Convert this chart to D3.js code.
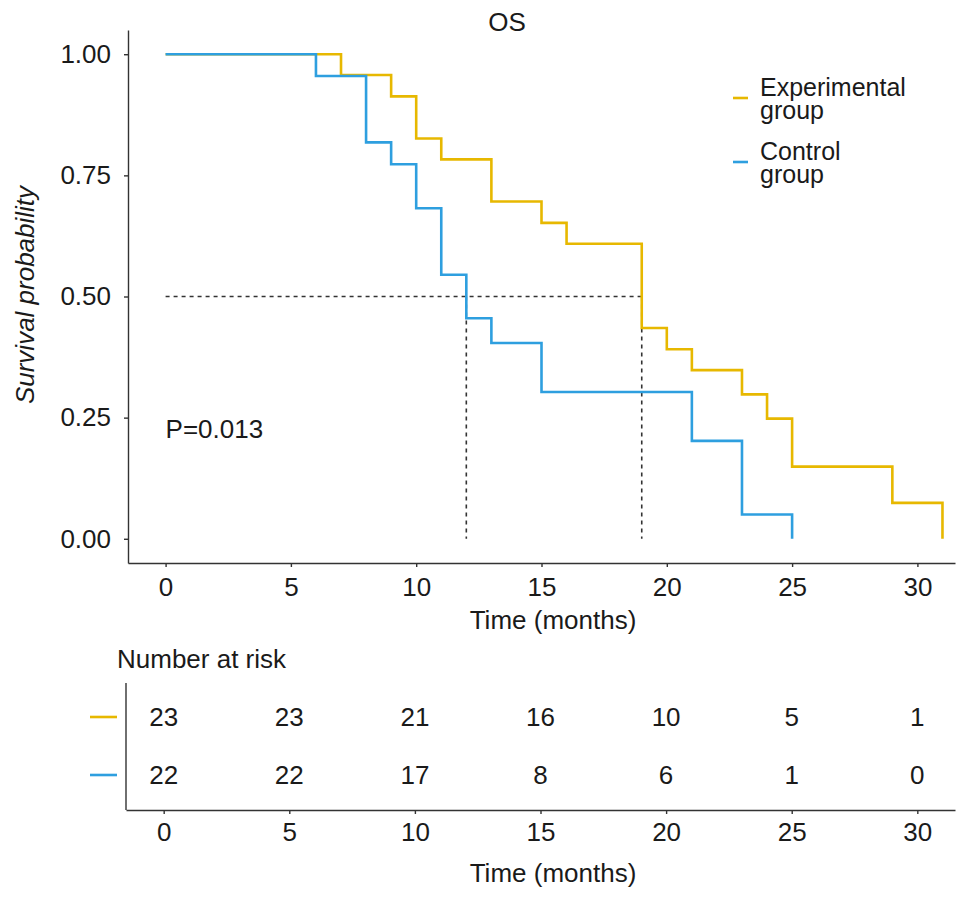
<!DOCTYPE html>
<html>
<head>
<meta charset="utf-8">
<script src="https://cdn.jsdelivr.net/npm/d3@7"></script>
<style>
  body { margin: 0; background: #fff; }
  svg text { font-family: "Liberation Sans", Arial, sans-serif; fill: #1a1a1a; }
  .axis path, .axis line { stroke: #333; stroke-width: 1.4; }
</style>
</head>
<body>
<svg id="km" width="969" height="900"></svg>
<script>
// step points of the Kaplan-Meier curves (time in months, survival)
const expTimes  = [0, 7, 9, 10, 11, 13, 15, 16, 19, 20, 21, 23, 24, 25, 29, 31];
const expSurv   = [1, 0.957, 0.913, 0.826, 0.783, 0.696, 0.652, 0.609, 0.435, 0.391, 0.348, 0.298, 0.248, 0.149, 0.074, 0];
const ctrlTimes = [0, 6, 8, 9, 10, 11, 12, 13, 15, 21, 23, 25];
const ctrlSurv  = [1, 0.955, 0.818, 0.773, 0.682, 0.545, 0.455, 0.404, 0.303, 0.202, 0.05, 0];

const groups = ["Experimental group", "Control group"];
const colors = ["#E7B800", "#2E9FDF"];
const medians = [12, 19];

const timeTicks = [0, 5, 10, 15, 20, 25, 30];
const survTicks = [0, 0.25, 0.5, 0.75, 1];
const riskExp  = [23, 23, 21, 16, 10, 5, 1];
const riskCtrl = [22, 22, 17, 8, 6, 1, 0];

const fs = 26;
const svg = d3.select("#km");

const x = d3.scaleLinear().domain([-1.5, 31.5]).range([128, 955]);
const y = d3.scaleLinear().domain([-0.05, 1.05]).range([563, 30]);

// axes of the survival panel
svg.append("g")
  .attr("class", "axis")
  .attr("transform", "translate(0,563)")
  .call(d3.axisBottom(x).tickValues(timeTicks).tickSize(4).tickSizeOuter(0).tickPadding(11));

svg.append("g")
  .attr("class", "axis")
  .attr("transform", "translate(128,0)")
  .call(d3.axisLeft(y).tickValues(survTicks).tickFormat(d3.format(".2f")).tickSize(4).tickSizeOuter(0).tickPadding(13));

svg.append("text")
  .attr("x", 507).attr("y", 31)
  .attr("text-anchor", "middle")
  .attr("font-size", fs)
  .text("OS");

svg.append("text")
  .attr("x", 553).attr("y", 629)
  .attr("text-anchor", "middle")
  .attr("font-size", fs)
  .text("Time (months)");

svg.append("text")
  .attr("transform", "translate(34,295) rotate(-90)")
  .attr("text-anchor", "middle")
  .attr("font-size", fs)
  .attr("font-style", "italic")
  .text("Survival probability");

// median lines
svg.append("line")
  .attr("x1", x(0)).attr("x2", x(d3.max(medians)))
  .attr("y1", y(0.5)).attr("y2", y(0.5))
  .attr("stroke", "#333").attr("stroke-width", 1.6).attr("stroke-dasharray", "4,4");

svg.selectAll(".median")
  .data(medians)
  .enter()
  .append("line")
  .attr("x1", d => x(d)).attr("x2", d => x(d))
  .attr("y1", y(0.5)).attr("y2", y(0))
  .attr("stroke", "#333").attr("stroke-width", 1.6).attr("stroke-dasharray", "4,4");

// curves
const line = d3.line()
  .x(d => x(d[0]))
  .y(d => y(d[1]))
  .curve(d3.curveStepAfter);

const curves = [
  d3.zip(expTimes, expSurv),
  d3.zip(ctrlTimes, ctrlSurv)
];

svg.selectAll(".curve")
  .data(curves)
  .enter()
  .append("path")
  .attr("d", line)
  .attr("fill", "none")
  .attr("stroke", (d, i) => colors[i])
  .attr("stroke-width", 2.6);

svg.append("text")
  .attr("x", x(0)).attr("y", 438)
  .attr("font-size", fs)
  .text("P=0.013");

// legend, two lines per entry
const legend = svg.selectAll(".legend")
  .data(groups)
  .enter()
  .append("g")
  .attr("transform", (d, i) => `translate(733,${96 + i * 64})`);

legend.append("line")
  .attr("x1", 0).attr("x2", 15)
  .attr("y1", 2).attr("y2", 2)
  .attr("stroke", (d, i) => colors[i])
  .attr("stroke-width", 2.6);

legend.selectAll("text")
  .data(d => d.split(" "))
  .enter()
  .append("text")
  .attr("x", 27)
  .attr("y", (d, i) => i * 23)
  .attr("font-size", 25)
  .text(d => d);

// number at risk table
svg.append("text")
  .attr("x", 117).attr("y", 668)
  .attr("font-size", fs)
  .text("Number at risk");

const xr = d3.scaleLinear().domain([-1.5, 31.5]).range([126, 955]);
const yr = d3.scalePoint().domain(groups).range([717, 775]);

svg.append("g")
  .attr("class", "axis")
  .attr("transform", "translate(0,810)")
  .call(d3.axisBottom(xr).tickValues(timeTicks).tickSize(4).tickSizeOuter(0).tickPadding(9));

svg.append("line")
  .attr("x1", 126).attr("x2", 126)
  .attr("y1", 683).attr("y2", 810)
  .attr("stroke", "#333").attr("stroke-width", 1.4);

svg.selectAll(".axis text").attr("font-size", fs);

svg.append("text")
  .attr("x", 553).attr("y", 882)
  .attr("text-anchor", "middle")
  .attr("font-size", fs)
  .text("Time (months)");

const riskRows = [riskExp, riskCtrl];

riskRows.forEach((row, gi) => {
  svg.append("line")
    .attr("x1", 90).attr("x2", 117)
    .attr("y1", yr(groups[gi])).attr("y2", yr(groups[gi]))
    .attr("stroke", colors[gi]).attr("stroke-width", 2.6);

  svg.selectAll(".risk" + gi)
    .data(row)
    .enter()
    .append("text")
    .attr("x", (d, i) => xr(timeTicks[i]))
    .attr("y", yr(groups[gi]))
    .attr("dy", "0.35em")
    .attr("text-anchor", "middle")
    .attr("font-size", fs)
    .text(d => d);
});
</script>
</body>
</html>
